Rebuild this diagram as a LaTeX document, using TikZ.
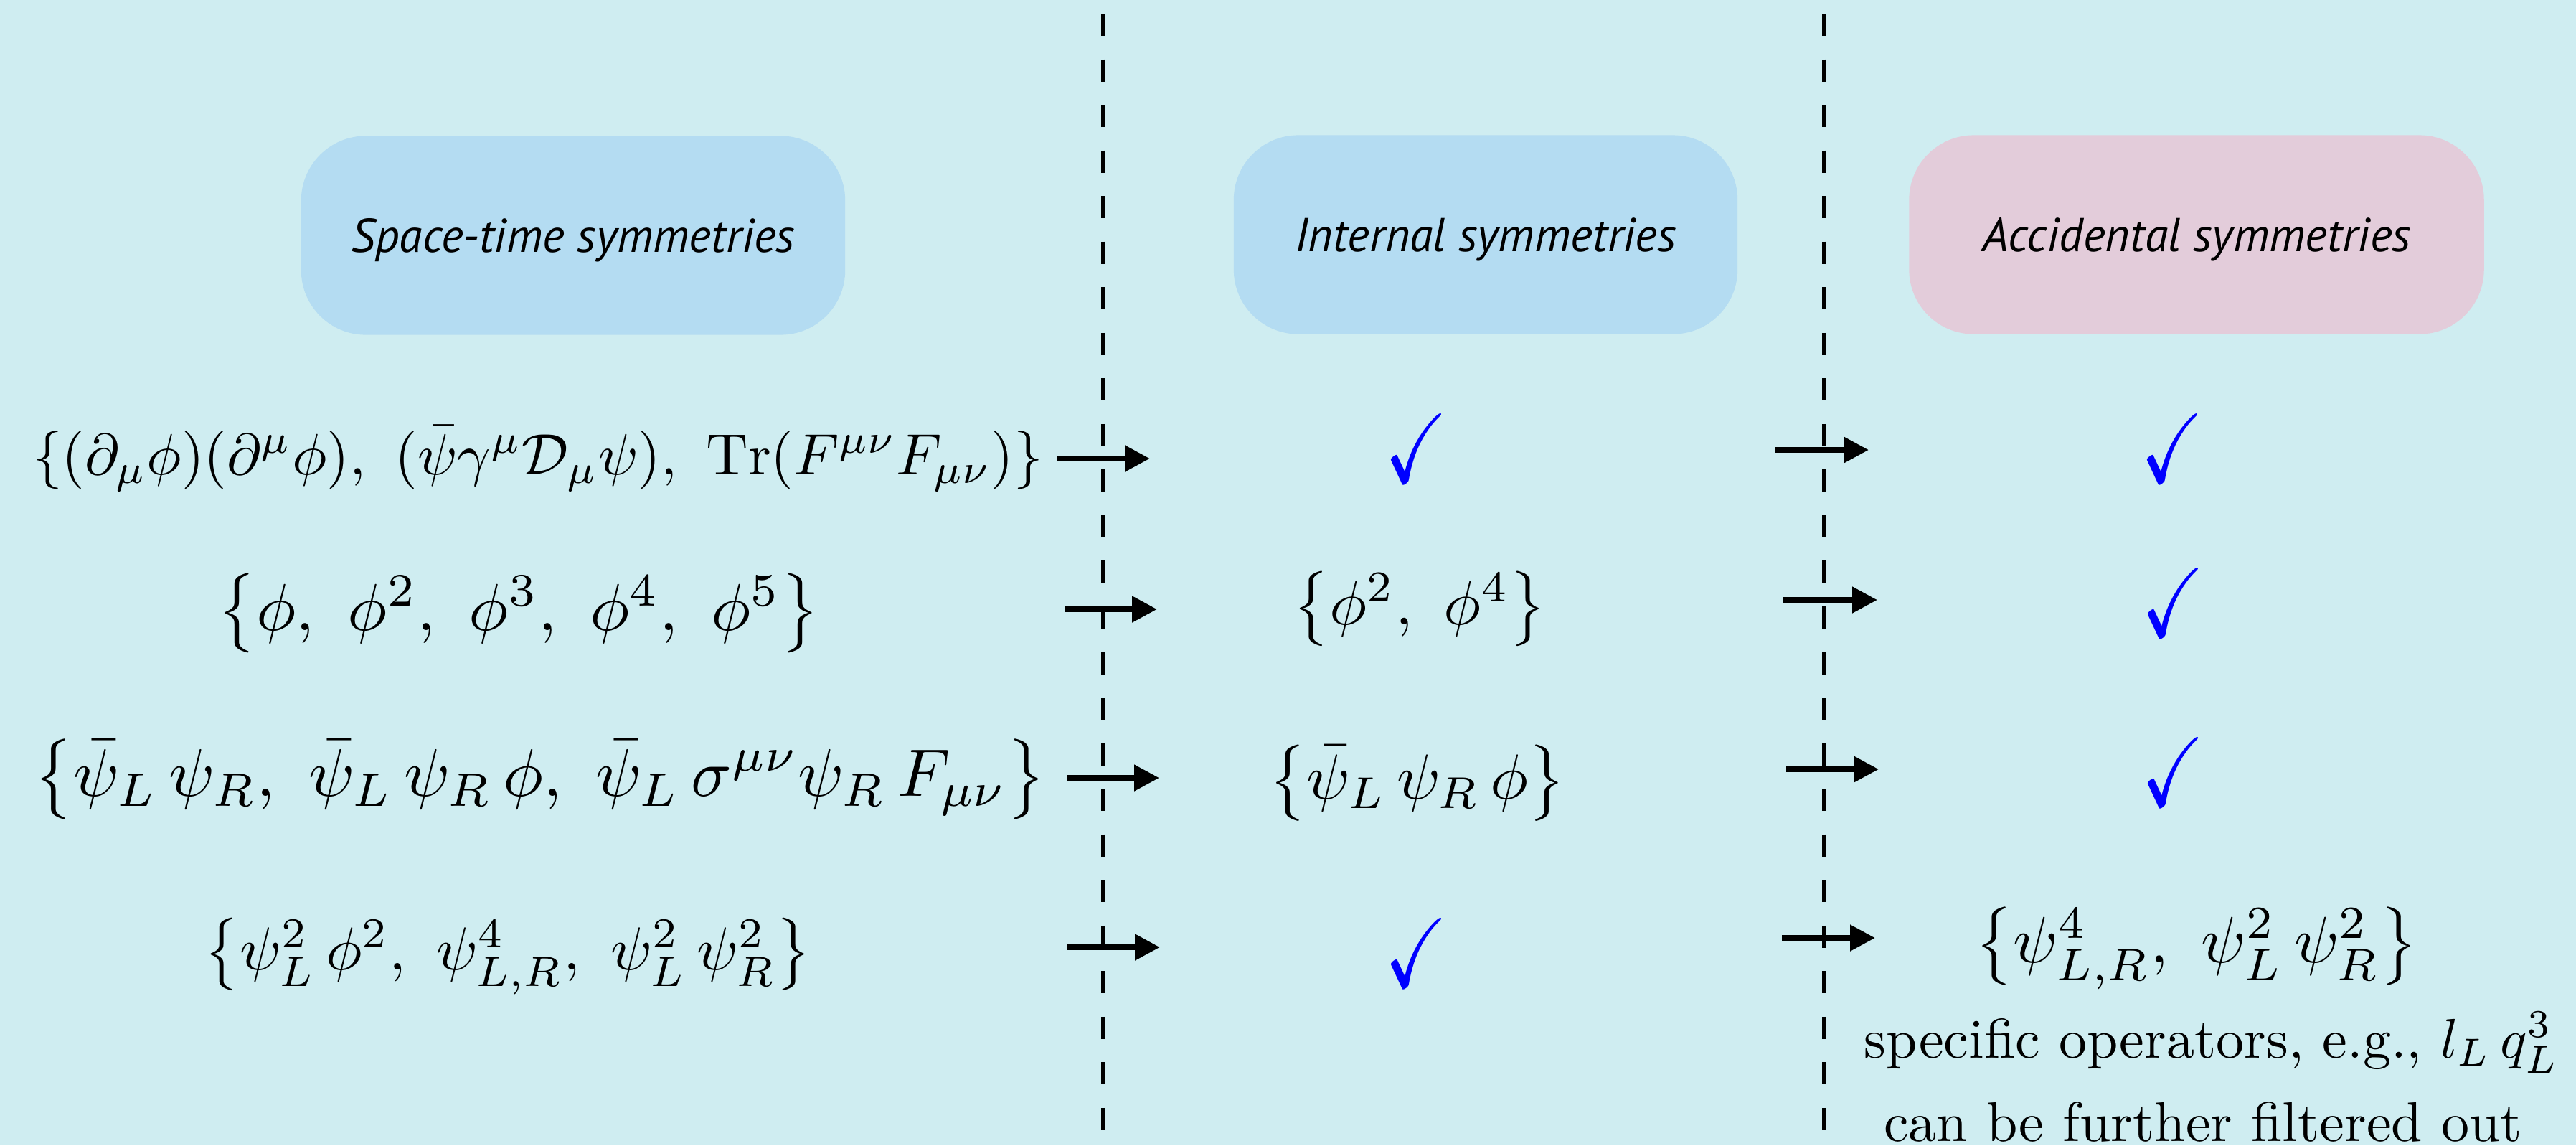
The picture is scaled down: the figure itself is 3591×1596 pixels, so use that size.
\documentclass[tikz,border=0pt]{standalone}
\usepackage{amssymb}
\usepackage{graphicx}
\usepackage{fontspec}
\newfontfamily\boxfont{PT Sans}
\usetikzlibrary{arrows.meta}
\definecolor{bgc}{RGB}{207,237,241}
\definecolor{boxblue}{RGB}{180,220,242}
\definecolor{boxpink}{RGB}{227,204,218}
\definecolor{checkblue}{RGB}{0,0,255}
\newcommand\exprscale{2.22}
\newcommand\chkmark{\resizebox*{0.88cm}{0.95cm}{$\checkmark$}}
\newcommand\fitw[2]{\resizebox{#1}{!}{$#2$}}
\begin{document}
\begin{tikzpicture}[x=0.01cm,y=-0.01cm,
  hdr/.style={rounded corners=0.9cm, minimum height=2.77cm, inner sep=0pt,
    text height=0.46cm, text depth=0pt,
    font=\boxfont\itshape\fontsize{18.8}{22}\selectfont},
  expr/.style={anchor=base, inner sep=0pt},
  chk/.style={inner sep=0pt, text=checkblue},
  sep/.style={line width=0.05cm, dash pattern=on 0.31cm off 0.325cm},
  arr/.style={line width=0.08cm, -{Triangle[length=0.35cm,width=0.35cm]}}]
\fill[bgc] (0,0) rectangle (3591,1596);
\useasboundingbox (0,0) rectangle (3591,1596);

% headers
\node[hdr, fill=boxblue, minimum width=7.58cm] (h1) at (799,328) {Space-time symmetries};
\node[hdr, fill=boxblue, minimum width=7.02cm] (h2) at (2071,327) {Internal symmetries};
\node[hdr, fill=boxpink, minimum width=8.01cm] (h3) at (3062,327) {Accidental symmetries};

% separators
\coordinate (d1t) at (1537,19); \coordinate (d1b) at (1537,1596);
\coordinate (d2t) at (2542,19); \coordinate (d2b) at (2542,1596);
\draw[sep] (d1t) -- (d1b);
\draw[sep] (d2t) -- (d2b);

% column 1
\node[expr] (r1a) at (750,661) {\fitw{14.07cm}{\{(\partial_\mu\phi)(\partial^\mu\phi),\ (\bar\psi\gamma^\mu\mathcal{D}_\mu\psi),\ \mathrm{Tr}(F^{\mu\nu}F_{\mu\nu})\}}};
\node[expr] (r2a) at (723,878) {\fitw{8.38cm}{\left\{\phi,\ \phi^2,\ \phi^3,\ \phi^4,\ \phi^5\right\}}};
\node[expr] (r3a) at (753,1109) {\fitw{14.10cm}{\left\{\bar\psi_L\,\psi_R,\ \bar\psi_L\,\psi_R\,\phi,\ \bar\psi_L\,\sigma^{\mu\nu}\psi_R\,F_{\mu\nu}\right\}}};
\node[expr] (r4a) at (708,1351) {\fitw{8.46cm}{\left\{\psi_L^2\,\phi^2,\ \psi^4_{L,R},\ \psi_L^2\,\psi_R^2\right\}}};

% column 2
\node[chk] (r1b) at (1975,625) {\chkmark};
\node[expr] (r2b) at (1979,870) {\fitw{3.52cm}{\left\{\phi^2,\ \phi^4\right\}}};
\node[expr] (r3b) at (1976,1113) {\fitw{4.13cm}{\left\{\bar\psi_L\,\psi_R\,\phi\right\}}};
\node[chk] (r4b) at (1975,1328) {\chkmark};

% column 3
\node[chk] (r1c) at (3028,625) {\chkmark};
\node[chk] (r2c) at (3029,840) {\chkmark};
\node[chk] (r3c) at (3029,1076) {\chkmark};
\node[expr] (r4c) at (3062,1341) {\fitw{6.17cm}{\left\{\psi^4_{L,R},\ \psi_L^2\,\psi_R^2\right\}}};
\node[expr] (t1) at (3083,1474) {\scalebox{\exprscale}{specific operators, e.g., $l_L\,q_L^3$}};
\node[expr] (t2) at (3071,1590) {\scalebox{\exprscale}{can be further filtered out}};

% arrows
\coordinate (a1s) at (1473,639); \coordinate (a1e) at (1603,639);
\coordinate (b1s) at (2475,627); \coordinate (b1e) at (2605,627);
\coordinate (a2s) at (1484,849); \coordinate (a2e) at (1613,849);
\coordinate (b2s) at (2486,836); \coordinate (b2e) at (2617,836);
\coordinate (a3s) at (1487,1084); \coordinate (a3e) at (1616,1084);
\coordinate (b3s) at (2490,1072); \coordinate (b3e) at (2619,1072);
\coordinate (a4s) at (1487,1320); \coordinate (a4e) at (1617,1320);
\coordinate (b4s) at (2484,1307); \coordinate (b4e) at (2614,1307);
\foreach \p in {a1,b1,a2,b2,a3,b3,a4,b4}{\draw[arr] (\p s) -- (\p e);}
\end{tikzpicture}
\end{document}
